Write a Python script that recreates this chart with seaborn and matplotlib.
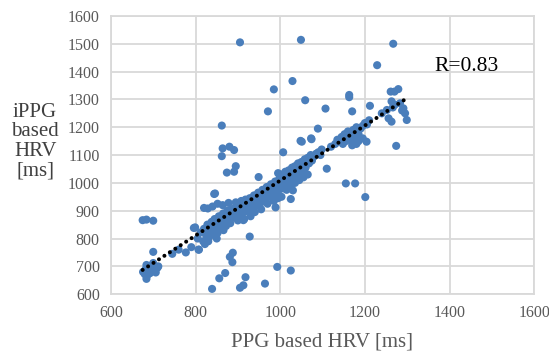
import matplotlib
matplotlib.use("Agg")
import matplotlib.pyplot as plt
import numpy as np
import pandas as pd
import seaborn as sns

# PPG based HRV (x) and iPPG based HRV (y), ms
band_x = [676, 682, 688, 692, 698, 704, 710, 686, 700, 695, 684, 706, 712, 690, 680,
          745, 760, 777, 790, 808, 799, 796,
          805, 812, 818, 820, 825, 828, 832, 835, 838, 840, 842, 845, 848, 850, 852, 855,
          858, 860, 862, 865, 868, 870, 872, 875, 878, 880, 882, 885, 888, 890,
          822, 830, 845, 850, 856, 866, 870, 820, 829, 840, 852, 864, 878, 895,
          892, 895, 898, 900, 903, 905, 908, 910, 912, 915, 918, 920, 922, 925, 928, 930,
          932, 935, 938, 940, 942, 945, 948, 950, 952, 955, 958, 960, 962, 965, 968, 970,
          972, 975, 978, 980, 982, 985, 988, 990, 992, 995, 998, 1000,
          900, 915, 930, 940, 955, 970, 985, 995, 913, 989, 1003, 1025, 1030,
          1002, 1005, 1008, 1010, 1012, 1015, 1018, 1020, 1022, 1025, 1028, 1030, 1032,
          1035, 1038, 1040, 1042, 1045, 1048, 1050, 1052, 1055, 1058, 1060, 1062, 1065,
          1068, 1070, 1072, 1075, 1080, 1085, 1090, 1095, 1098,
          1005, 1015, 1025, 1035, 1045, 1055, 1065, 995,
          1120, 1130, 1135, 1140, 1145, 1148, 1150, 1152, 1155, 1158, 1160, 1162, 1165,
          1168, 1170, 1172, 1175, 1178, 1180, 1185, 1190, 1195, 1200, 1205, 1210,
          1195, 1185, 1180, 1170, 1204,
          1261, 1270, 1279, 1263, 1271, 1283, 1291, 1295, 1299, 1252, 1256, 1263, 1240,
          1266, 1288, 1274]
band_y = [680, 690, 700, 675, 705, 688, 695, 668, 712, 682, 705, 678, 700, 695, 672,
          745, 760, 750, 769, 760, 840, 838,
          800, 822, 790, 835, 812, 850, 805, 830, 860, 815, 845, 870, 832, 855, 820, 880,
          848, 865, 835, 890, 858, 875, 845, 900, 868, 885, 855, 905, 875, 895,
          780, 790, 820, 800, 840, 830, 850, 910, 908, 915, 925, 920, 928, 930,
          910, 885, 925, 900, 915, 880, 935, 905, 920, 895, 940, 910, 925, 900, 945, 920,
          935, 910, 955, 930, 945, 920, 965, 940, 955, 930, 975, 950, 965, 940, 985, 960,
          975, 950, 995, 970, 985, 960, 1005, 980, 995, 970, 1015, 990,
          865, 870, 880, 895, 905, 925, 935, 945, 866, 912, 950, 942, 973,
          1010, 1030, 995, 1020, 1040, 1005, 1025, 1045, 1015, 1035, 1055, 1020, 1040,
          1060, 1030, 1050, 1070, 1040, 1060, 1075, 1045, 1065, 1085, 1055, 1075, 1090,
          1070, 1085, 1100, 1080, 1095, 1105, 1110, 1100, 1120,
          980, 975, 990, 1000, 1010, 1020, 1030, 1035,
          1130, 1140, 1155, 1150, 1165, 1140, 1160, 1175, 1150, 1170, 1185, 1160, 1180,
          1155, 1175, 1190, 1165, 1185, 1200, 1175, 1195, 1205, 1215, 1210, 1225,
          1160, 1150, 1140, 1135, 1148,
          1328, 1328, 1337, 1293, 1281, 1286, 1268, 1250, 1226, 1262, 1232, 1220, 1250,
          1271, 1260, 1133]

outlier_x = [905, 1049, 1267, 1229, 1029, 985, 1059, 971, 1107, 862, 1163, 1163, 1170,
             1212, 1089, 1048, 1073, 1007, 864, 880, 891, 862, 895, 891, 874, 949, 1110,
             1074, 1051, 846, 675, 684, 700, 839, 856, 870, 918, 905, 913, 964, 993, 1025,
             881, 888, 887, 928, 1155, 1177, 1201, 844, 807, 700, 684]
outlier_y = [1505, 1514, 1500, 1423, 1366, 1336, 1297, 1257, 1267, 1206, 1316, 1308, 1257,
             1277, 1195, 1151, 1160, 1110, 1124, 1130, 1118, 1096, 1060, 1040, 1037, 1021, 1051,
             1157, 1148, 962, 866, 868, 864, 619, 657, 676, 661, 623, 632, 638, 698, 685,
             734, 749, 715, 807, 998, 998, 949, 960, 760, 752, 655]

df = pd.DataFrame({"ppg": band_x + outlier_x, "ippg": band_y + outlier_y})

sns.set_style("white")
plt.rcParams["font.family"] = ["Liberation Serif", "DejaVu Serif"]

fig = plt.figure(figsize=(5.49, 3.54), dpi=100)
ax = fig.add_axes([0.202, 0.169, 0.771, 0.786])

sns.scatterplot(data=df, x="ppg", y="ippg", ax=ax, color="#4A7EBB", s=34,
                edgecolor="none", zorder=3, legend=False)
sns.regplot(data=df, x="ppg", y="ippg", ax=ax, scatter=False, ci=None,
            line_kws=dict(color="black", linestyle=(0, (0.01, 1.6)), linewidth=2.9,
                          dash_capstyle="round", solid_capstyle="round", zorder=4))

ax.set_xlim(600, 1600)
ax.set_ylim(600, 1600)
ax.set_xticks(range(600, 1601, 200))
ax.set_yticks(range(600, 1601, 100))
ax.grid(True, color="#D9D9D9", linewidth=1.3, zorder=0)
ax.set_axisbelow(True)
for sp in ax.spines.values():
    sp.set_color("#D9D9D9")
    sp.set_linewidth(1.3)
ax.tick_params(length=0, labelsize=11.5, labelcolor="#595959", pad=8)
ax.set_xlabel("")
ax.set_ylabel("")

ax.text(1364, 1420, "R=0.83", fontsize=15.5, color="black", va="center", ha="left")
fig.text(0.587, 0.034, "PPG based HRV [ms]", fontsize=15, color="#595959",
         ha="center", va="center")
fig.text(0.064, 0.60, "iPPG\nbased\nHRV\n[ms]", fontsize=15, color="#404040",
         ha="center", va="center", linespacing=1.05)

fig.savefig("out.png", dpi=100)
